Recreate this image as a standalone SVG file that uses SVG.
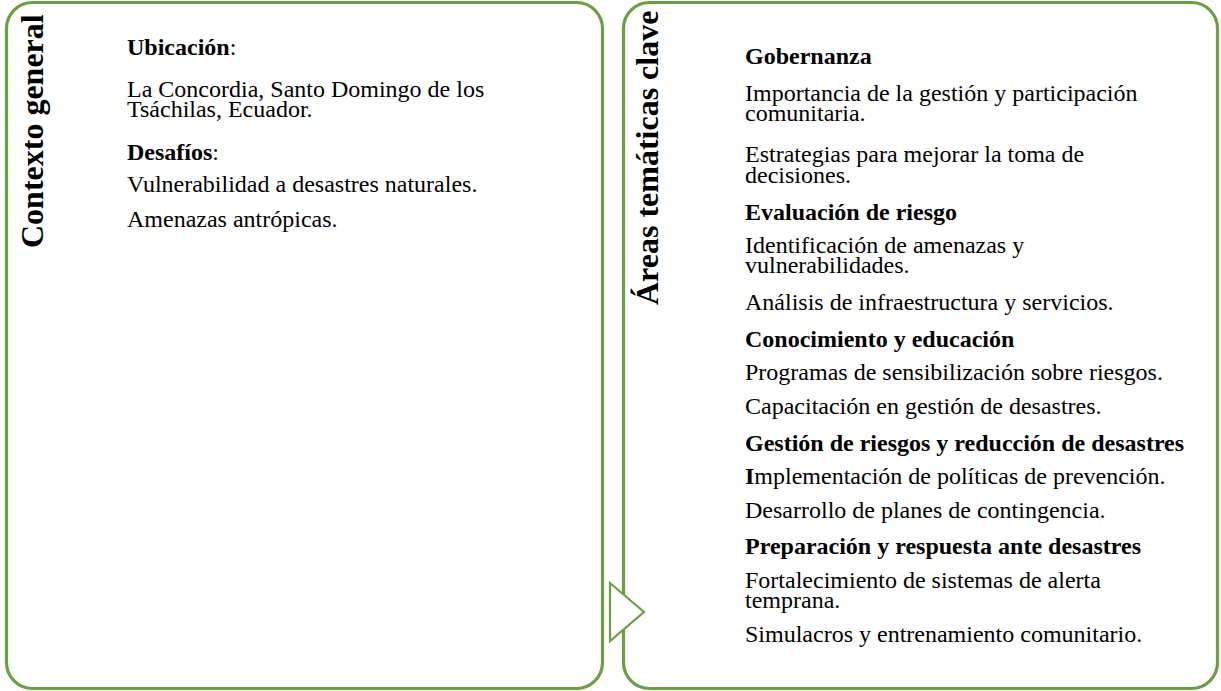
<svg xmlns="http://www.w3.org/2000/svg" width="1221" height="691" viewBox="0 0 1221 691">
<style>
.box{fill:#fff;stroke:#6a9f43;stroke-width:3.2}
.tri{fill:#fff;stroke:#6a9f43;stroke-width:2.2}
.t{font-family:"Liberation Serif","Times New Roman",serif;font-size:24px;fill:#000}
.b{font-weight:bold}
.title{font-family:"Liberation Serif","Times New Roman",serif;font-size:32px;font-weight:bold;fill:#000}
</style>
<rect width="1221" height="691" fill="#fff"/>
<g id="node-contexto">
<rect class="box" x="6.5" y="2.5" width="596" height="686" rx="26" ry="26"/>
<text class="title" transform="translate(43,248) rotate(-90)">Contexto general</text>
<text class="t" x="127" y="55"><tspan class="b">Ubicación</tspan>:</text>
<text class="t" x="127" y="97">La Concordia, Santo Domingo de los</text>
<text class="t" x="127" y="117">Tsáchilas, Ecuador.</text>
<text class="t" x="127" y="160"><tspan class="b">Desafíos</tspan>:</text>
<text class="t" x="127" y="192">Vulnerabilidad a desastres naturales.</text>
<text class="t" x="127" y="227">Amenazas antrópicas.</text>
</g>
<g id="node-areas">
<rect class="box" x="623.5" y="2.5" width="594" height="686" rx="26" ry="26"/>
<text class="title" transform="translate(658,305) rotate(-90)">Áreas temáticas clave</text>
<text class="t b" x="745" y="64">Gobernanza</text>
<text class="t" x="745" y="101">Importancia de la gestión y participación</text>
<text class="t" x="745" y="121">comunitaria.</text>
<text class="t" x="745" y="162">Estrategias para mejorar la toma de</text>
<text class="t" x="745" y="183">decisiones.</text>
<text class="t b" x="745" y="220">Evaluación de riesgo</text>
<text class="t" x="745" y="253">Identificación de amenazas y</text>
<text class="t" x="745" y="273">vulnerabilidades.</text>
<text class="t" x="745" y="310">Análisis de infraestructura y servicios.</text>
<text class="t b" x="745" y="347">Conocimiento y educación</text>
<text class="t" x="745" y="380">Programas de sensibilización sobre riesgos.</text>
<text class="t" x="745" y="414">Capacitación en gestión de desastres.</text>
<text class="t b" x="745" y="451">Gestión de riesgos y reducción de desastres</text>
<text class="t" x="745" y="484"><tspan class="b">I</tspan>mplementación de políticas de prevención.</text>
<text class="t" x="745" y="518">Desarrollo de planes de contingencia.</text>
<text class="t b" x="745" y="554">Preparación y respuesta ante desastres</text>
<text class="t" x="745" y="588">Fortalecimiento de sistemas de alerta</text>
<text class="t" x="745" y="608">temprana.</text>
<text class="t" x="745" y="642">Simulacros y entrenamiento comunitario.</text>
</g>
<g id="connectors">
<polygon class="tri" points="610,583 644,612 610,641"/>
</g>
</svg>
